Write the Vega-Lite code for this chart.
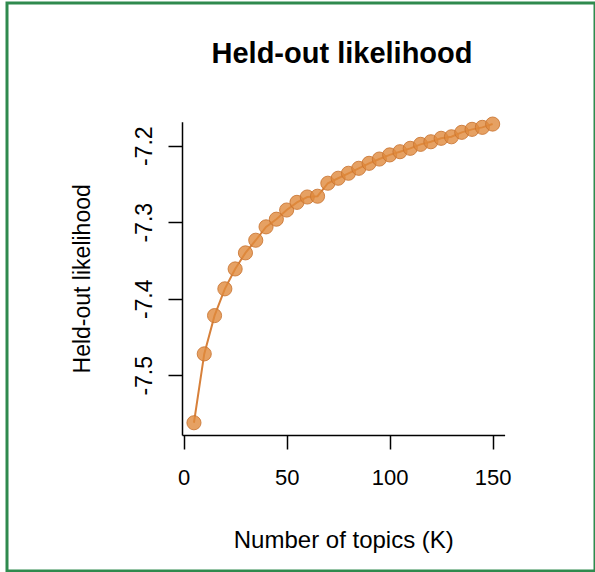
{
  "$schema": "https://vega.github.io/schema/vega-lite/v6.json",
  "autosize": "none",
  "width": 588,
  "height": 568,
  "padding": {"left": 7, "top": 3, "right": 0, "bottom": 1},
  "background": "white",
  "title": {
    "text": "Held-out likelihood",
    "fontSize": 29,
    "fontWeight": "bold",
    "font": "Liberation Sans",
    "color": "black",
    "anchor": "middle",
    "baseline": "alphabetic",
    "offset": -89,
    "dx": 41
  },
  "data": {
    "values": [
      {"K": 5, "ll": -7.562},
      {"K": 10, "ll": -7.472},
      {"K": 15, "ll": -7.422},
      {"K": 20, "ll": -7.387},
      {"K": 25, "ll": -7.361},
      {"K": 30, "ll": -7.340},
      {"K": 35, "ll": -7.3235},
      {"K": 40, "ll": -7.306},
      {"K": 45, "ll": -7.296},
      {"K": 50, "ll": -7.284},
      {"K": 55, "ll": -7.274},
      {"K": 60, "ll": -7.267},
      {"K": 65, "ll": -7.266},
      {"K": 70, "ll": -7.249},
      {"K": 75, "ll": -7.2425},
      {"K": 80, "ll": -7.236},
      {"K": 85, "ll": -7.2295},
      {"K": 90, "ll": -7.223},
      {"K": 95, "ll": -7.2174},
      {"K": 100, "ll": -7.212},
      {"K": 105, "ll": -7.2078},
      {"K": 110, "ll": -7.2034},
      {"K": 115, "ll": -7.1982},
      {"K": 120, "ll": -7.1948},
      {"K": 125, "ll": -7.1903},
      {"K": 130, "ll": -7.1883},
      {"K": 135, "ll": -7.1825},
      {"K": 140, "ll": -7.1786},
      {"K": 145, "ll": -7.176},
      {"K": 150, "ll": -7.1717}
    ]
  },
  "encoding": {
    "x": {
      "field": "K",
      "type": "quantitative",
      "scale": {"domain": [-0.8, 155.8], "range": [175, 497.6], "nice": false, "zero": false},
      "axis": {
        "title": "Number of topics (K)",
        "values": [0, 50, 100, 150],
        "offset": -136,
        "labelFontSize": 22,
        "labelPadding": 18,
        "titleFontSize": 24,
        "titlePadding": 40
      }
    },
    "y": {
      "field": "ll",
      "type": "quantitative",
      "scale": {"domain": [-7.578, -7.1686], "range": [432, 118.7], "nice": false, "zero": false},
      "axis": {
        "title": "Held-out likelihood",
        "values": [-7.5, -7.4, -7.3, -7.2],
        "labelExpr": "'' + datum.value",
        "offset": -175,
        "labelAngle": -90,
        "labelAlign": "center",
        "labelBaseline": "bottom",
        "labelFontSize": 23,
        "labelPadding": 12,
        "titleFontSize": 23,
        "titlePadding": 39
      }
    }
  },
  "layer": [
    {"mark": {"type": "line", "color": "#D7803A", "strokeWidth": 2}},
    {"mark": {"type": "point", "filled": true, "size": 200, "fill": "#E08A3C", "fillOpacity": 0.8, "stroke": "#C97431", "strokeWidth": 1, "strokeOpacity": 0.85}}
  ],
  "config": {
    "font": "Liberation Sans",
    "view": {"stroke": "#2f8a4e", "strokeWidth": 3},
    "axis": {
      "grid": false,
      "domainColor": "black",
      "domainWidth": 1.5,
      "tickColor": "black",
      "tickWidth": 1.5,
      "tickSize": 14,
      "labelColor": "black",
      "titleColor": "black",
      "titleFontWeight": "normal",
      "labelFont": "Liberation Sans",
      "titleFont": "Liberation Sans"
    }
  }
}
